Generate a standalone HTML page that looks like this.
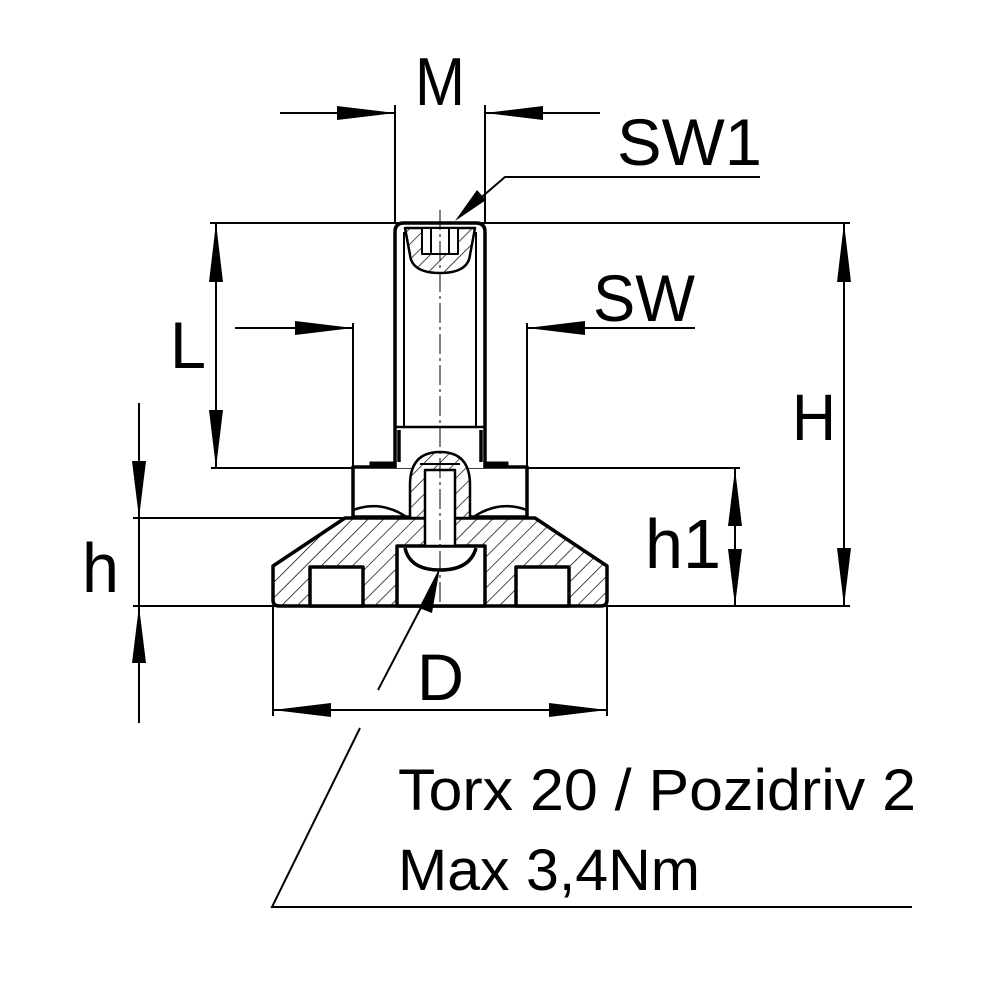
<!DOCTYPE html>
<html><head><style>html,body{margin:0;padding:0;background:#fff}svg{display:block}</style></head>
<body>
<svg width="1000" height="1000" viewBox="0 0 1000 1000" xmlns="http://www.w3.org/2000/svg">
<defs>
<pattern id="h" patternUnits="userSpaceOnUse" width="11" height="11" patternTransform="rotate(45)">
<rect width="11" height="11" fill="#fff"/><line x1="0" y1="0" x2="0" y2="11" stroke="#000" stroke-width="1.4"/>
</pattern>
</defs>
<g font-family="Liberation Sans, DejaVu Sans, sans-serif" fill="#000">
<text x="415" y="105" font-size="68" textLength="50" lengthAdjust="spacingAndGlyphs">M</text>
<text x="617" y="165" font-size="66" textLength="145" lengthAdjust="spacingAndGlyphs">SW1</text>
<text x="593" y="321" font-size="66" textLength="102" lengthAdjust="spacingAndGlyphs">SW</text>
<text x="170" y="368" font-size="66" textLength="36" lengthAdjust="spacingAndGlyphs">L</text>
<text x="792" y="440" font-size="66" textLength="44" lengthAdjust="spacingAndGlyphs">H</text>
<text x="645" y="568" font-size="70" textLength="76" lengthAdjust="spacingAndGlyphs">h1</text>
<text x="82" y="592" font-size="70" textLength="37" lengthAdjust="spacingAndGlyphs">h</text>
<text x="417" y="700" font-size="66" textLength="47" lengthAdjust="spacingAndGlyphs">D</text>
<text x="398" y="810" font-size="58" textLength="518" lengthAdjust="spacingAndGlyphs">Torx 20 / Pozidriv 2</text>
<text x="398" y="890" font-size="58" textLength="302" lengthAdjust="spacingAndGlyphs">Max 3,4Nm</text>
</g>
<g stroke="#000" stroke-width="2" fill="none">
<line x1="280" y1="113" x2="395" y2="113"/><line x1="485" y1="113" x2="600" y2="113"/>
<line x1="395" y1="105" x2="395" y2="223"/><line x1="485" y1="105" x2="485" y2="223"/>
<polyline points="760,177 505,177 462,214"/>
<line x1="210" y1="223" x2="850" y2="223"/>
<line x1="216" y1="223" x2="216" y2="468"/>
<line x1="211" y1="468" x2="740" y2="468"/>
<line x1="235" y1="328" x2="353" y2="328"/><line x1="527" y1="328" x2="695" y2="328"/>
<line x1="353" y1="323" x2="353" y2="466"/><line x1="527" y1="323" x2="527" y2="466"/>
<line x1="844" y1="223" x2="844" y2="606"/>
<line x1="735" y1="469" x2="735" y2="606"/>
<line x1="133" y1="518" x2="345" y2="518"/>
<line x1="133" y1="606" x2="850" y2="606"/>
<line x1="139" y1="403" x2="139" y2="723"/>
<line x1="273" y1="606" x2="273" y2="716"/><line x1="607" y1="606" x2="607" y2="716"/>
<line x1="273" y1="710" x2="607" y2="710"/>
<polyline points="360,728 272,907 912,907"/>
</g>
<g stroke="#000" stroke-width="3.5" fill="#fff" stroke-linejoin="round">
<path d="M345,518 L535,518 L607,566 L607,600 Q607,606 601,606 L279,606 Q273,606 273,600 L273,566 Z" fill="url(#h)"/>
<rect x="310" y="567" width="53" height="39"/>
<rect x="516" y="567" width="53" height="39"/>
<rect x="397" y="546" width="88" height="60"/>
<path d="M405,548 Q410,570 440,570 Q470,570 476,548" fill="none"/>
<rect x="353" y="467" width="174" height="50"/>
<path d="M353,510 Q380,500 405,516" fill="none" stroke-width="2.5"/>
<path d="M527,510 Q500,500 475,516" fill="none" stroke-width="2.5"/>
<rect x="370" y="462" width="138" height="5" fill="#000" stroke-width="1"/>
<path d="M395,468 L395,232 Q395,223 404,223 L476,223 Q485,223 485,232 L485,468"/>
<line x1="404" y1="232" x2="404" y2="427" stroke-width="2"/>
<line x1="476" y1="232" x2="476" y2="427" stroke-width="2"/>
<line x1="395" y1="427" x2="485" y2="427" stroke-width="2.5"/>
<line x1="399" y1="430" x2="399" y2="462"/><line x1="481" y1="430" x2="481" y2="462"/>
<path d="M405,228 L475,228 L470,255 Q468,273 440,273 Q412,273 410,255 Z" fill="url(#h)" stroke-width="2.5"/>
<rect x="422" y="228" width="36" height="26" fill="#fff" stroke-width="2"/>
<line x1="431" y1="228" x2="431" y2="254" stroke-width="2"/><line x1="449" y1="228" x2="449" y2="254" stroke-width="2"/>
<path d="M410,518 L410,485 Q410,452 440,452 Q470,452 470,485 L470,518 Z" fill="url(#h)" stroke-width="2.5"/>
<path d="M425,546 L425,470 L455,470 L455,546 Z" fill="#fff" stroke-width="2.5"/>
<line x1="420" y1="464" x2="460" y2="464" stroke-width="2"/>
</g>
<line x1="438" y1="575" x2="378" y2="690" stroke="#000" stroke-width="2"/>
<line x1="440" y1="210" x2="440" y2="606" stroke="#000" stroke-width="1" stroke-dasharray="20,4,3,4"/>
<g fill="#000">
<polygon points="395,113 337,106 337,120"/>
<polygon points="485,113 543,106 543,120"/>
<polygon points="455,221 477,190 486,200"/>
<polygon points="216,223 209,282 223,282"/>
<polygon points="216,468 209,410 223,410"/>
<polygon points="353,328 295,321 295,335"/>
<polygon points="527,328 585,321 585,335"/>
<polygon points="844,223 837,282 851,282"/>
<polygon points="844,606 837,548 851,548"/>
<polygon points="735,469 728,526 742,526"/>
<polygon points="735,606 728,549 742,549"/>
<polygon points="139,518 132,461 146,461"/>
<polygon points="139,606 132,663 146,663"/>
<polygon points="273,710 331,703 331,717"/>
<polygon points="607,710 549,703 549,717"/>
<polygon points="440,567 419,608 432,613"/>
</g>
</svg>
</body></html>
